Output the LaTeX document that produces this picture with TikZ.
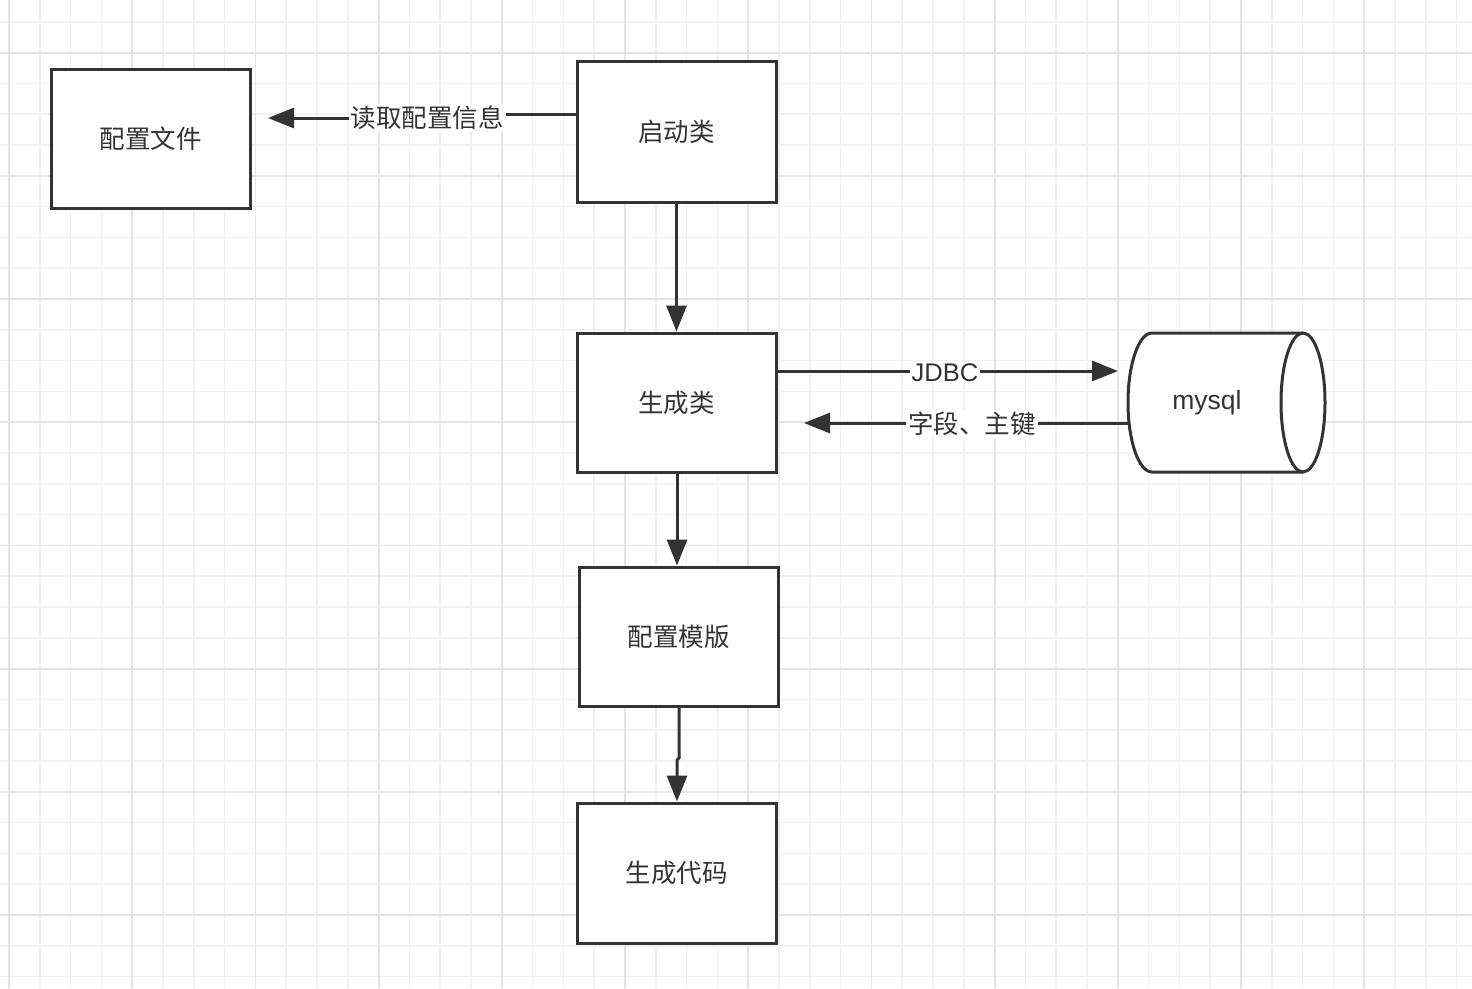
\documentclass[tikz,border=0pt]{standalone}
\usepackage{fontspec}
\newfontfamily\cjk{Noto Sans CJK SC}
\setmainfont{Liberation Sans}
\usetikzlibrary{arrows.meta,shapes.geometric}
\definecolor{ink}{HTML}{333333}
\definecolor{gminor}{HTML}{F1F1F1}
\definecolor{gmajor}{HTML}{E4E4E4}
\tikzset{
  box/.style={draw=ink, line width=3pt, fill=white, minimum width=199pt, minimum height=139pt, inner sep=0pt, font=\cjk\fontsize{25.5}{30}\selectfont, text=ink},
  conn/.style={draw=ink, line width=3pt, -{Triangle[length=26pt,width=20pt]}},
  lbl/.style={fill=white, inner sep=2pt, font=\cjk\fontsize{25.5}{30}\selectfont, text=ink},
  llbl/.style={fill=white, inner sep=2pt, font=\fontsize{25.5}{30}\selectfont, text=ink},
}
\begin{document}
\begin{tikzpicture}[x=1pt,y=-1pt]
\useasboundingbox (0,0) rectangle (1472,988);
\fill[white] (0,0) rectangle (1472,988);
% grid
\foreach \i in {-1,...,48} {
  \draw[gminor, line width=1.5pt] ({9+30.8*\i},0) -- ({9+30.8*\i},988);
  \draw[gminor, line width=1.5pt] (0,{52.6+30.8*\i}) -- (1472,{52.6+30.8*\i});
}
\foreach \i in {0,...,12} {
  \draw[gmajor, line width=1.8pt] ({9+123.2*\i},0) -- ({9+123.2*\i},988);
  \draw[gmajor, line width=1.8pt] (0,{52.6+123.2*\i}) -- (1472,{52.6+123.2*\i});
}
% nodes
\node[box] (cfg) at (150.5,138.5) {配置文件};
\node[box, minimum height=141pt] (start) at (676.5,131.5) {启动类};
\node[box] (gen) at (676.5,402.5) {生成类};
\node[box] (tpl) at (678.5,636.5) {配置模版};
\node[box, minimum height=140pt] (code) at (676.5,873) {生成代码};
% mysql cylinder (horizontal)
\filldraw[fill=white, draw=ink, line width=3pt] (1303,333) -- (1152,333) arc[start angle=270, end angle=90, x radius=24, y radius=69.5] -- (1303,472) arc[start angle=90, end angle=-90, x radius=22, y radius=69.5] -- cycle;
\draw[draw=ink, line width=3pt] (1303,333) arc[start angle=270, end angle=90, x radius=22, y radius=69.5];
\node[font=\fontsize{26.5}{30}\selectfont, text=ink] (db) at (1207,403) {mysql};
% connectors
\coordinate (a1) at (428,114);
\coordinate (a2) at (428,118);
\coordinate (t1) at (268,118);
\draw[conn] (start.west |- a1) -- (a1) -- (a2) -- (t1);
\node[lbl] (l1) at (427,118) {读取配置信息};
\draw[conn] (start.south) -- (gen.north);
\coordinate (t2) at (1118,371);
\draw[conn] (gen.east |- t2) -- (t2);
\node[llbl] (l2) at (945,373) {JDBC};
\coordinate (s3) at (1128,423);
\coordinate (t3) at (804,423);
\draw[conn] (s3) -- (t3);
\node[lbl] (l3) at (972,424) {字段、主键};
\draw[conn] (gen.south -| 677,0) -- (tpl.north -| 677,0);
\coordinate (j1) at (679,758);
\coordinate (j2) at (677,760);
\draw[conn] (tpl.south -| j1) -- (j1) -- (j2) -- (code.north -| j2);
\end{tikzpicture}
\end{document}
